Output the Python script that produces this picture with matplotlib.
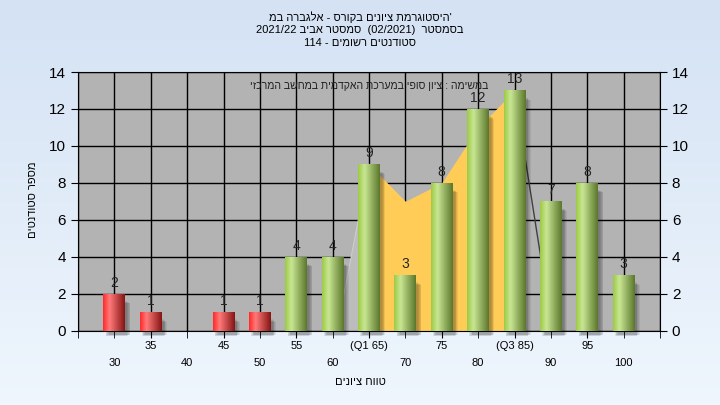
import numpy as np
import matplotlib
matplotlib.use('Agg')
import matplotlib.pyplot as plt
from matplotlib.patches import Rectangle, Polygon
from matplotlib.colors import to_rgb

plt.rcParams['font.family'] = ['Liberation Sans', 'DejaVu Sans']

# grade ranges and number of students in each
grades = [30, 35, 40, 45, 50, 55, 60, 65, 70, 75, 80, 85, 90, 95, 100]
counts = [2, 1, 0, 1, 1, 4, 4, 9, 3, 8, 12, 13, 7, 8, 3]
pass_grade = 55

# yellow "in progress" area between Q1 and Q3
area_x = [65, 70, 75, 80, 85]
area_y = [9, 7, 8, 11, 13]

# staggered tick labels
upper_ticks = [35, 45, 55, 65, 75, 85, 95]
upper_labels = ['35', '45', '55', '(Q1 65)', '75', '(Q3 85)', '95']
lower_ticks = [30, 40, 50, 60, 70, 80, 90, 100]
lower_labels = ['30', '40', '50', '60', '70', '80', '90', '100']

title_lines = ["'היסטוגרמת ציונים בקורס - אלגברה במ",
               "בסמסטר  (02/2021)  סמסטר אביב 2021/22",
               "סטודנטים רשומים - 114"]
note = "במשימה : ציון סופי במערכת האקדמית במחשב המרכזי"
ylabel = "מספר סטודנטים"
xlabel = "טווח ציונים"


def rtl(s):
    # matplotlib has no bidi, so flip hebrew words and word order by hand
    out = []
    for tok in s.split(' '):
        if any('\u0590' <= c <= '\u05ff' for c in tok):
            out.append(tok[::-1])
        else:
            out.append(tok)
    return ' '.join(out[::-1])


def gradient(c_left, c_mid, c_right, n=64):
    l, m, r = np.array(to_rgb(c_left)), np.array(to_rgb(c_mid)), np.array(to_rgb(c_right))
    t = np.linspace(0, 1, n)
    cols = []
    for v in t:
        if v < 0.3:
            cols.append(l + (m - l) * v / 0.3)
        else:
            cols.append(m + (r - m) * (v - 0.3) / 0.7)
    return np.array(cols)[None, :, :]


fig = plt.figure(figsize=(7.2, 4.05), dpi=100)

# light blue background
bg = fig.add_axes([0, 0, 1, 1], zorder=-5)
top = np.array(to_rgb('#d4e2f4'))
bot = np.array(to_rgb('#eff6fd'))
bg.imshow(np.linspace(top, bot, 100)[:, None, :], aspect='auto', extent=[0, 1, 0, 1])
bg.axis('off')

ax = fig.add_axes([78 / 720, 1 - 330.5 / 405, (660 - 78) / 720, (330.5 - 72) / 405])
ax.set_facecolor('#b3b3b3')
ax.set_axisbelow(True)
ax.grid(True, color='black', lw=1, zorder=0)
for s in ax.spines.values():
    s.set_color('black')

# area behind the bars
ax.fill_between(area_x, 0, area_y, color='#ffcc58', lw=0, zorder=1)
ax.add_patch(Polygon([(60.6, 0), (65, 9), (65, 0)], closed=True, color='#bcbcbc', lw=0, zorder=1))
ax.plot([60.6, 65], [0, 9], color='#cdcdcd', lw=0.8, zorder=1)
ax.plot([85, 90.2], [13, 0], color='#404040', lw=1, zorder=1)

green = gradient('#9ccb45', '#c9e693', '#5a772c')
red = gradient('#ff2a2a', '#ff7a7a', '#861414')
width = 3.0
for g, c in zip(grades, counts):
    if c == 0:
        continue
    x0 = g - width / 2
    # soft shadow to the right / below
    for k in range(5):
        d = 0.2 * k
        ax.add_patch(Rectangle((x0 + 0.3 + d * 0.5, -0.3 + d * 0.1), width, c - 0.1 - d * 0.25,
                               color='black', alpha=0.07, lw=0, zorder=2, clip_on=False))
    ax.imshow(red if g < pass_grade else green, extent=[x0, x0 + width, 0, c],
              aspect='auto', interpolation='bilinear', zorder=3)
    ax.text(g, c + 0.22, str(c), ha='center', va='bottom', fontsize=10, color='#262626', zorder=4)

ax.text(65, 13.25, rtl(note), ha='center', va='center', fontsize=7.6, color='#202020', zorder=4)

ax.set_xlim(25, 105)
ax.set_ylim(0, 14)

# x ticks in two rows
ax.set_xticks(upper_ticks)
ax.set_xticklabels(upper_labels, fontsize=8)
ax.set_xticks(lower_ticks + [25, 105], minor=True)
ax.set_xticklabels(lower_labels + ['', ''], minor=True, fontsize=8)
ax.tick_params(axis='x', which='major', length=5, pad=2.5, color='black')
ax.tick_params(axis='x', which='minor', length=5, pad=14.5, color='black')
ax.xaxis.grid(True, which='minor', color='black', lw=1)

ax.set_yticks(range(0, 15, 2))
ax.tick_params(axis='y', which='both', left=True, right=True, labelleft=True, labelright=True,
               labelsize=11, length=5)

fig.text(33 / 720, 1 - 200 / 405, rtl(ylabel), rotation=90, ha='center', va='center', fontsize=8)
fig.text(360 / 720, 1 - 382 / 405, rtl(xlabel), ha='center', va='center', fontsize=8)

for i, line in enumerate(title_lines):
    fig.text(0.5, 1 - (17 + 13 * i) / 405, rtl(line), ha='center', va='center', fontsize=8)

fig.savefig('out.png', dpi=100)
